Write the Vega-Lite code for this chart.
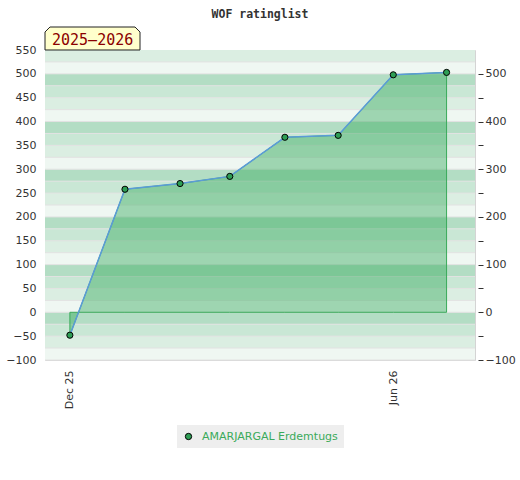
{
  "$schema": "https://vega.github.io/schema/vega-lite/v6.json",
  "width": 430,
  "height": 310,
  "autosize": {"type": "none"},
  "padding": {"left": 45, "top": 50, "right": 45, "bottom": 120},
  "background": "white",
  "title": {
    "text": "WOF ratinglist",
    "font": "DejaVu Sans Mono",
    "fontSize": 11.5,
    "fontWeight": "bold",
    "color": "#333",
    "anchor": "middle",
    "offset": 5
  },
  "config": {
    "view": {"stroke": "#d4d4d4", "strokeWidth": 1},
    "axis": {"labelFont": "DejaVu Sans", "labelFontSize": 11, "labelColor": "#333"},
    "legend": {"layout": {"bottom": {"anchor": "middle"}}}
  },
  "datasets": {
    "ratings": [
      {"player": "AMARJARGAL Erdemtugs", "date": "2025-12-01", "rating": -48},
      {"player": "AMARJARGAL Erdemtugs", "date": "2026-01-01", "rating": 258},
      {"player": "AMARJARGAL Erdemtugs", "date": "2026-02-01", "rating": 270},
      {"player": "AMARJARGAL Erdemtugs", "date": "2026-03-01", "rating": 285},
      {"player": "AMARJARGAL Erdemtugs", "date": "2026-04-01", "rating": 367},
      {"player": "AMARJARGAL Erdemtugs", "date": "2026-05-01", "rating": 371},
      {"player": "AMARJARGAL Erdemtugs", "date": "2026-06-01", "rating": 498},
      {"player": "AMARJARGAL Erdemtugs", "date": "2026-07-01", "rating": 503}
    ],
    "bands": [
      {"lo": -100, "hi": -75, "shade": "a"},
      {"lo": -75, "hi": -50, "shade": "b"},
      {"lo": -50, "hi": -25, "shade": "c"},
      {"lo": -25, "hi": 0, "shade": "d"},
      {"lo": 0, "hi": 25, "shade": "a"},
      {"lo": 25, "hi": 50, "shade": "b"},
      {"lo": 50, "hi": 75, "shade": "c"},
      {"lo": 75, "hi": 100, "shade": "d"},
      {"lo": 100, "hi": 125, "shade": "a"},
      {"lo": 125, "hi": 150, "shade": "b"},
      {"lo": 150, "hi": 175, "shade": "c"},
      {"lo": 175, "hi": 200, "shade": "d"},
      {"lo": 200, "hi": 225, "shade": "a"},
      {"lo": 225, "hi": 250, "shade": "b"},
      {"lo": 250, "hi": 275, "shade": "c"},
      {"lo": 275, "hi": 300, "shade": "d"},
      {"lo": 300, "hi": 325, "shade": "a"},
      {"lo": 325, "hi": 350, "shade": "b"},
      {"lo": 350, "hi": 375, "shade": "c"},
      {"lo": 375, "hi": 400, "shade": "d"},
      {"lo": 400, "hi": 425, "shade": "a"},
      {"lo": 425, "hi": 450, "shade": "b"},
      {"lo": 450, "hi": 475, "shade": "c"},
      {"lo": 475, "hi": 500, "shade": "d"},
      {"lo": 500, "hi": 525, "shade": "a"},
      {"lo": 525, "hi": 550, "shade": "b"}
    ],
    "season": [{"season": "2025–2026"}]
  },
  "resolve": {"axis": {"y": "independent"}},
  "layer": [
    {
      "data": {"name": "bands"},
      "mark": {"type": "rect"},
      "encoding": {
        "y": {
          "field": "lo", "type": "quantitative",
          "scale": {"domain": [-100, 550], "nice": false, "zero": false},
          "axis": {
            "orient": "left", "values": [-100, -50, 0, 50, 100, 150, 200, 250, 300, 350, 400, 450, 500, 550],
            "ticks": false, "domain": false, "grid": false, "labelPadding": 9, "title": null
          }
        },
        "y2": {"field": "hi"},
        "fill": {
          "field": "shade", "type": "nominal", "legend": null,
          "scale": {"domain": ["a", "b", "c", "d"], "range": ["#eff7f2", "#dbeee2", "#c9e7d5", "#b3ddc4"]}
        }
      }
    },
    {
      "data": {"name": "bands"},
      "mark": {"type": "rule", "color": "#e2e2e2", "strokeWidth": 1},
      "encoding": {
        "y": {
          "field": "lo", "type": "quantitative",
          "scale": {"domain": [-100, 550], "nice": false, "zero": false},
          "axis": {
            "orient": "right", "offset": 3, "values": [-100, -50, 0, 50, 100, 150, 200, 250, 300, 350, 400, 450, 500],
            "labelExpr": "datum.value % 100 == 0 ? datum.label : ''",
            "ticks": true, "tickSize": 5, "tickColor": "#333",
            "domain": false, "grid": false, "labelPadding": 2, "title": null
          }
        }
      }
    },
    {
      "data": {"name": "ratings"},
      "mark": {"type": "area", "fill": "#32aa5b", "fillOpacity": 0.43, "stroke": "#3aaa5a", "strokeWidth": 1},
      "encoding": {
        "x": {
          "field": "date", "type": "temporal",
          "scale": {
            "type": "utc",
            "domain": [
              {"year": 2025, "month": 11, "date": 17, "utc": true},
              {"year": 2026, "month": 7, "date": 17, "utc": true}
            ]
          },
          "axis": {
            "values": [
              {"year": 2025, "month": 12, "date": 1, "utc": true},
              {"year": 2026, "month": 6, "date": 1, "utc": true}
            ],
            "format": "%b %y", "labelAngle": -90,
            "ticks": false, "domain": false, "grid": false, "labelPadding": 10, "title": null
          }
        },
        "y": {"field": "rating", "type": "quantitative", "scale": {"domain": [-100, 550], "nice": false, "zero": false}, "axis": null},
        "y2": {"datum": 0}
      }
    },
    {
      "data": {"name": "ratings"},
      "mark": {"type": "line", "color": "#5b9bd8", "strokeWidth": 1.5},
      "encoding": {
        "x": {"field": "date", "type": "temporal"},
        "y": {"field": "rating", "type": "quantitative", "axis": null}
      }
    },
    {
      "data": {"name": "ratings"},
      "mark": {"type": "point", "filled": true, "size": 38, "stroke": "black", "strokeWidth": 1, "opacity": 1},
      "encoding": {
        "x": {"field": "date", "type": "temporal"},
        "y": {"field": "rating", "type": "quantitative", "axis": null},
        "color": {
          "field": "player", "type": "nominal",
          "scale": {"range": ["#2e9e55"]},
          "legend": {
            "orient": "bottom", "title": null, "offset": 16,
            "fillColor": "#eeeeee", "padding": 6,
            "labelColor": "#3aaa5a", "labelFont": "DejaVu Sans", "labelFontSize": 11, "labelOffset": 8,
            "symbolType": "circle", "symbolSize": 40,
            "symbolStrokeColor": "black", "symbolStrokeWidth": 1
          }
        }
      }
    },
    {
      "data": {"name": "season"},
      "mark": {
        "type": "point",
        "shape": "M -1 0.242 L -1 -0.137 L -0.895 -0.242 L 0.895 -0.242 L 1 -0.137 L 1 0.242 Z",
        "size": 9025, "filled": true, "fill": "#ffffcc", "stroke": "#222", "strokeWidth": 1, "opacity": 1,
        "xOffset": 47.5, "yOffset": -11.5
      },
      "encoding": {
        "x": {"datum": {"year": 2025, "month": 11, "date": 17, "utc": true}, "type": "temporal"},
        "y": {"datum": 550, "type": "quantitative", "axis": null}
      }
    },
    {
      "data": {"name": "season"},
      "mark": {
        "type": "text", "font": "DejaVu Sans Mono", "fontSize": 15, "color": "#8b0000",
        "align": "left", "baseline": "alphabetic", "dx": 7, "dy": -5
      },
      "encoding": {
        "x": {"datum": {"year": 2025, "month": 11, "date": 17, "utc": true}, "type": "temporal"},
        "y": {"datum": 550, "type": "quantitative", "axis": null},
        "text": {"field": "season", "type": "nominal"}
      }
    }
  ]
}
